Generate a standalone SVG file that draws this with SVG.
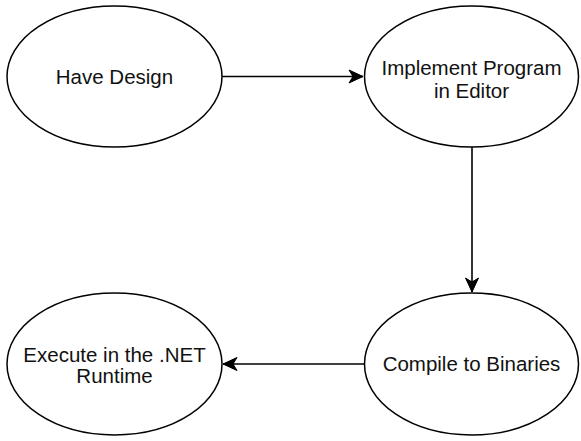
<svg xmlns="http://www.w3.org/2000/svg" width="581" height="441" viewBox="0 0 581 441">
  <style>
    .node ellipse { fill: #ffffff; stroke: #000000; stroke-width: 1.5; }
    .node text { font-family: "Liberation Sans", Arial, Helvetica, sans-serif; font-size: 20.5px; fill: #111111; text-anchor: middle; }
    .edge { fill: none; stroke: #000000; stroke-width: 1.6; }
  </style>
  <defs>
    <marker id="arrow" markerUnits="userSpaceOnUse" markerWidth="16" markerHeight="16" viewBox="-15 -8 16 16" refX="0" refY="0" orient="auto">
      <path d="M0,0 L-14,-6.5 L-10,0 L-14,6.5 Z" fill="#000000" stroke="#000000" stroke-width="1" stroke-linejoin="miter"/>
    </marker>
  </defs>
  <rect width="581" height="441" fill="#ffffff"/>

  <g id="connectors">
    <path class="edge" d="M222,76.5 L363,76.5" marker-end="url(#arrow)"/>
    <path class="edge" d="M472,146.5 L472,292" marker-end="url(#arrow)"/>
    <path class="edge" d="M364.5,364 L223,364" marker-end="url(#arrow)"/>
  </g>

  <g id="have-design" class="node">
    <ellipse cx="114.5" cy="76.5" rx="107.5" ry="70.5"/>
    <text x="114.5" y="84">Have Design</text>
  </g>

  <g id="implement-program" class="node">
    <ellipse cx="471.5" cy="76.5" rx="107" ry="70.5"/>
    <text x="471.5" y="75">Implement Program</text>
    <text x="471.5" y="97.5">in Editor</text>
  </g>

  <g id="compile-to-binaries" class="node">
    <ellipse cx="471.5" cy="364" rx="107" ry="71"/>
    <text x="471.5" y="371">Compile to Binaries</text>
  </g>

  <g id="execute-runtime" class="node">
    <ellipse cx="114.5" cy="364" rx="107.5" ry="71"/>
    <text x="114.5" y="361.5">Execute in the .NET</text>
    <text x="114.5" y="383">Runtime</text>
  </g>
</svg>
